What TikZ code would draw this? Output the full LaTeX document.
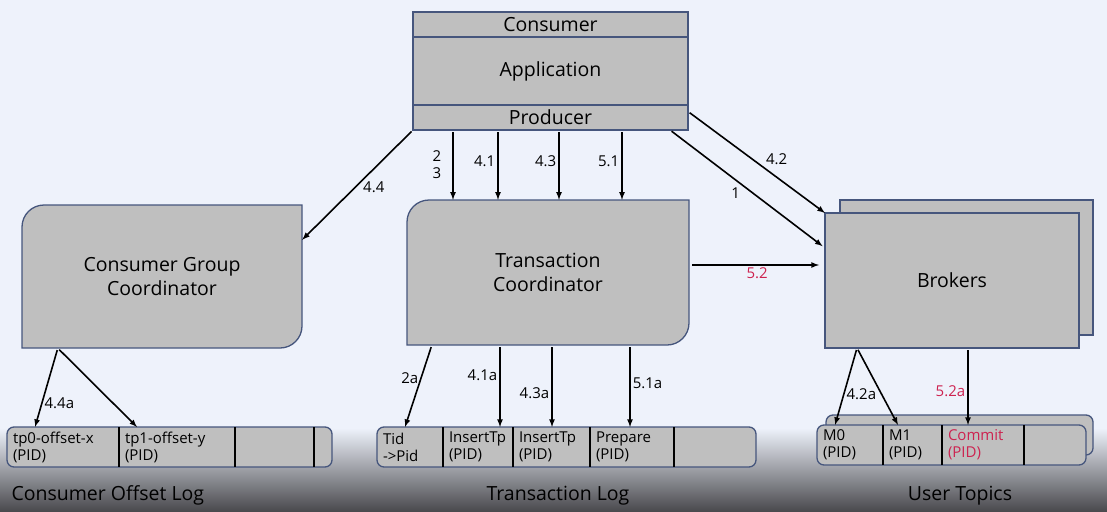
\documentclass[tikz,border=0pt]{standalone}
\usepackage{fontspec}
\setmainfont{Open Sans}
\definecolor{pagebg}{RGB}{238,242,251}
\definecolor{boxgray}{RGB}{191,191,191}
\definecolor{boxline}{RGB}{70,86,125}
\definecolor{stepred}{RGB}{205,35,80}
\definecolor{floor}{RGB}{74,74,78}
\newcommand{\boxfont}{\fontsize{19.5}{24}\selectfont}
\newcommand{\cellfont}{\fontsize{15}{17}\selectfont}
\tikzset{
  box/.style={draw=boxline, fill=boxgray, line width=1.3pt, inner ysep=0pt, outer sep=0pt, font=\boxfont},
  title/.style={align=center, inner sep=0pt, font=\boxfont},
  logbar/.style={draw=boxline, fill=boxgray, line width=1.3pt, rounded corners=7pt,
    minimum height=40pt, inner sep=0pt, outer sep=0pt},
  cell/.style={anchor=north west, align=left, inner xsep=6pt, inner ysep=0pt,
    outer sep=0pt, minimum height=40pt, font=\cellfont},
  divider/.style={line width=1.2pt},
  arr/.style={->, line width=1.6pt, shorten <=2pt},
  lbl/.style={font=\cellfont, inner sep=2pt},
  caption/.style={font=\boxfont},
}
\begin{document}
\begin{tikzpicture}[x=1pt,y=-1pt,>=latex]
  \useasboundingbox (0,0) rectangle (1107,511);
  \fill[pagebg] (0,0) rectangle (1107,511);
  \shade[top color=pagebg, bottom color=floor] (0,428) rectangle (1107,511);

  % application
  \node[box, minimum width=275, minimum height=25, anchor=north west] (cons) at (413,12) {Consumer};
  \node[box, minimum width=275, minimum height=68, anchor=north] (appl) at (cons.south) {Application};
  \node[box, minimum width=275, minimum height=25, anchor=north] (prod) at (appl.south) {Producer};

  % coordinators
  \draw[box] (22,348) -- (22,227) arc[start angle=180, end angle=270, radius=22] -- (302,205)
    -- (302,326) arc[start angle=0, end angle=90, radius=22] -- cycle;
  \node[title, minimum width=280, minimum height=143] (cgc) at (162,276.5) {Consumer Group\\Coordinator};
  \draw[box] (407,345) -- (407,222) arc[start angle=180, end angle=270, radius=22] -- (689,200)
    -- (689,323) arc[start angle=0, end angle=90, radius=22] -- cycle;
  \node[title, minimum width=282, minimum height=145] (tc) at (548,272.5) {Transaction\\Coordinator};

  % brokers
  \node[box, minimum width=253, minimum height=135, anchor=north west] (brk2) at (840,200) {};
  \node[box, minimum width=254, minimum height=135, anchor=north west] (brk) at (825,213) {Brokers};

  % consumer offset log
  \node[logbar, minimum width=325, anchor=north west] (olog) at (7,427) {};
  \node[cell, text width=100pt] (ol1) at (7,427) {tp0-offset-x\\(PID)};
  \node[cell, text width=104pt] (ol2) at (ol1.north east) {tp1-offset-y\\(PID)};
  \node[cell, text width=67pt] (ol3) at (ol2.north east) {};
  \foreach \c in {ol1,ol2,ol3}
    \draw[divider] (\c.north east) -- (\c.south east);

  % transaction log
  \node[logbar, minimum width=379, anchor=north west] (tlog) at (377,427) {};
  \node[cell, text width=54pt] (tl1) at (377,427) {Tid\\->Pid};
  \node[cell, text width=58pt] (tl2) at (tl1.north east) {InsertTp\\(PID)};
  \node[cell, text width=65pt] (tl3) at (tl2.north east) {InsertTp\\(PID)};
  \node[cell, text width=72pt] (tl4) at (tl3.north east) {Prepare\\(PID)};
  \foreach \c in {tl1,tl2,tl3,tl4}
    \draw[divider] (\c.north east) -- (\c.south east);

  % user topics
  \node[logbar, minimum width=267, anchor=north west] (utb) at (826,415) {};
  \node[logbar, minimum width=269, anchor=north west] (ut) at (817,425) {};
  \node[cell, text width=54pt] (ut1) at (817,425) {M0\\(PID)};
  \node[cell, text width=47pt] (ut2) at (ut1.north east) {M1\\(PID)};
  \node[cell, text width=70pt, text=stepred] (ut3) at (ut2.north east) {Commit\\(PID)};
  \foreach \c in {ut1,ut2,ut3}
    \draw[divider] (\c.north east) -- (\c.south east);

  % steps from the application
  \draw[arr] (prod.south west) -- ([yshift=-35pt]cgc.north east) node[lbl, pos=0.52, right=5pt] {4.4};
  \draw[arr] (453,0 |- prod.south) -- (453,0 |- tc.north) node[lbl, midway, left=9pt, align=center] {2\\3};
  \draw[arr] (498,0 |- prod.south) -- (498,0 |- tc.north) node[lbl, pos=0.45, left] {4.1};
  \draw[arr] (559,0 |- prod.south) -- (559,0 |- tc.north) node[lbl, pos=0.45, left] {4.3};
  \draw[arr] (622,0 |- prod.south) -- (622,0 |- tc.north) node[lbl, pos=0.45, left] {5.1};
  \draw[arr, shorten >=3pt] (670,0 |- prod.south) -- (brk.west |- 0,248) node[lbl, pos=0.47, below left] {1};
  \draw[arr] ([yshift=6pt]prod.east) -- (brk.north west) node[lbl, pos=0.55, above right] {4.2};
  \draw[arr, shorten <=3pt, shorten >=6pt] (tc.east |- 0,265) -- (brk.west |- 0,265)
    node[lbl, midway, below, text=stepred] {5.2};

  % steps into the logs
  \draw[arr] ([xshift=36pt]cgc.south west) -- ([xshift=28pt]ol1.north west) node[lbl, pos=0.7, right] {4.4a};
  \draw[arr] ([xshift=36pt]cgc.south west) -- ([xshift=18pt]ol2.north west);
  \draw[arr] ([xshift=25pt]tc.south west) -- ([xshift=28pt]tl1.north west) node[lbl, pos=0.4, left] {2a};
  \draw[arr] (500,0 |- tc.south) -- (500,0 |- tl2.north) node[lbl, pos=0.37, left] {4.1a};
  \draw[arr] (552,0 |- tc.south) -- (552,0 |- tl3.north) node[lbl, pos=0.59, left] {4.3a};
  \draw[arr] (630,0 |- tc.south) -- (630,0 |- tl4.north) node[lbl, pos=0.46, right] {5.1a};
  \draw[arr] ([xshift=32pt]brk.south west) -- ([xshift=18pt]ut1.north west) node[lbl, pos=0.6, right] {4.2a};
  \draw[arr] ([xshift=32pt]brk.south west) -- ([xshift=15pt]ut2.north west);
  \draw[arr] (968,0 |- brk.south) -- (968,0 |- ut3.north) node[lbl, pos=0.56, left, text=stepred] {5.2a};

  % captions
  \node[caption, anchor=base west] (olcap) at (8,500) {Consumer Offset Log};
  \node[caption, anchor=base] (tlcap) at (558,500) {Transaction Log};
  \node[caption, anchor=base] (utcap) at (960,500) {User Topics};
\end{tikzpicture}
\end{document}
